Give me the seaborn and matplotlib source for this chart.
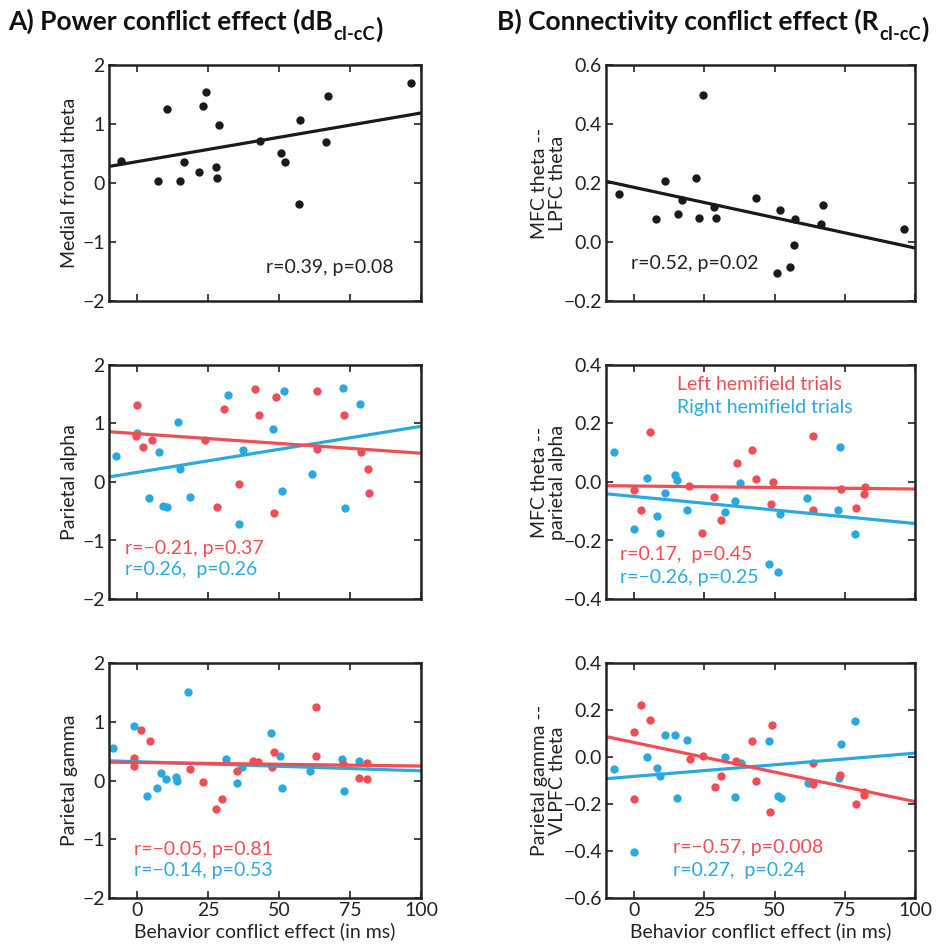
import numpy as np
import matplotlib
matplotlib.use("Agg")
import matplotlib.pyplot as plt
import matplotlib.font_manager as fm
import seaborn as sns

RED = "#ee4e54"
BLUE = "#2aa9e0"

# behaviour conflict effect (ms) and neural effects
a_top_x = [-5.7, 7.2, 10.5, 15.1, 16.5, 21.8, 23.0, 24.1, 27.7, 28.2, 28.8, 43.2, 50.6, 52.1, 56.9, 57.3, 66.6, 67.3, 96.3]
a_top_y = [0.37, 0.04, 1.25, 0.03, 0.36, 0.18, 1.31, 1.54, 0.27, 0.08, 0.99, 0.71, 0.51, 0.36, -0.35, 1.06, 0.69, 1.47, 1.69]

b_top_x = [-5.2, 7.7, 10.9, 15.6, 16.9, 22.2, 23.2, 24.4, 28.3, 29.0, 43.5, 50.7, 52.1, 55.6, 57.0, 57.4, 66.7, 67.4, 96.2]
b_top_y = [0.162, 0.077, 0.206, 0.095, 0.143, 0.217, 0.081, 0.497, 0.117, 0.081, 0.150, -0.105, 0.107, -0.085, -0.011, 0.078, 0.061, 0.127, 0.043]

a_mid_left_x = [-0.2, -0.6, 2.1, 5.2, 23.7, 28.2, 30.7, 35.9, 41.4, 43.0, 48.0, 49.0, 63.3, 63.4, 73.0, 78.7, 81.2, 81.5]
a_mid_left_y = [1.31, 0.78, 0.60, 0.71, 0.71, -0.43, 1.25, -0.04, 1.59, 1.15, -0.53, 1.46, 1.55, 0.56, 1.15, 0.51, 0.22, -0.18]
a_mid_right_x = [-7.6, -0.2, 4.1, 7.8, 8.9, 10.6, 14.3, 14.9, 18.5, 31.9, 35.8, 37.4, 47.8, 50.9, 51.6, 61.5, 72.6, 73.2, 78.5]
a_mid_right_y = [0.44, 0.84, -0.27, 0.51, -0.41, -0.42, 1.03, 0.23, -0.25, 1.49, -0.72, 0.55, 0.90, -0.15, 1.56, 0.13, 1.61, -0.45, 1.34]

b_mid_left_x = [0.0, 2.5, 5.6, 19.6, 28.5, 30.9, 24.2, 36.5, 42.1, 43.4, 48.7, 49.3, 63.8, 63.8, 73.5, 79.1, 82.1, 81.8]
b_mid_left_y = [-0.026, -0.097, 0.171, -0.015, -0.052, -0.131, -0.174, 0.065, 0.108, 0.009, -0.074, 0.001, 0.158, -0.096, -0.025, -0.089, -0.017, -0.042]
b_mid_right_x = [-7.3, -0.1, 4.5, 8.1, 9.3, 10.9, 14.6, 15.3, 18.8, 32.2, 35.9, 37.7, 48.1, 51.2, 51.8, 61.7, 72.7, 73.4, 78.5]
b_mid_right_y = [0.104, -0.159, 0.015, -0.117, -0.176, -0.038, 0.025, 0.007, -0.095, -0.103, -0.065, -0.002, -0.281, -0.309, -0.108, -0.054, -0.096, 0.118, -0.177]

a_bot_left_x = [-1.3, -1.2, -1.2, 1.2, 4.4, 18.6, 23.3, 27.6, 29.9, 35.2, 40.9, 42.6, 47.4, 48.0, 62.9, 62.9, 72.5, 78.2, 80.9, 81.0]
a_bot_left_y = [0.38, 0.33, 0.24, 0.86, 0.67, 0.19, -0.03, -0.49, -0.32, 0.16, 0.34, 0.31, 0.23, 0.49, 1.25, 0.42, 0.28, 0.05, 0.02, 0.29]
a_bot_right_x = [-8.5, -1.2, 3.3, 7.0, 8.2, 10.0, 13.5, 14.1, 17.7, 31.2, 35.0, 36.8, 47.2, 50.4, 51.1, 61.0, 72.0, 72.7, 78.1]
a_bot_right_y = [0.56, 0.93, -0.27, -0.12, 0.12, 0.03, 0.06, -0.01, 1.51, 0.37, -0.05, 0.23, 0.81, 0.42, -0.13, 0.17, 0.36, -0.18, 0.34]

b_bot_left_x = [-0.2, -0.1, 2.6, 5.7, 19.8, 24.4, 28.9, 31.0, 36.3, 42.0, 43.3, 48.4, 49.1, 63.7, 63.7, 73.3, 79.0, 81.7, 81.7]
b_bot_left_y = [0.105, -0.178, 0.223, 0.158, -0.008, 0.004, -0.129, -0.079, -0.016, 0.068, -0.100, -0.236, 0.136, -0.024, -0.113, -0.076, -0.200, -0.160, -0.150]
b_bot_right_x = [-7.3, 0.0, 4.5, 8.0, 9.4, 11.1, 14.6, 15.3, 18.8, 32.3, 35.9, 38.0, 48.1, 51.2, 52.2, 62.0, 72.8, 73.5, 78.8]
b_bot_right_y = [-0.049, -0.404, 0.0, -0.048, -0.082, 0.093, 0.092, -0.174, 0.072, -0.001, -0.171, -0.025, 0.068, -0.164, -0.175, -0.109, -0.089, 0.055, 0.154]

sns.set_style("ticks")
names = {f.name for f in fm.fontManager.ttflist}
base_font = "Lato" if "Lato" in names else "DejaVu Sans"
plt.rcParams["font.family"] = [base_font, "DejaVu Sans"]
plt.rcParams["axes.linewidth"] = 1.8
plt.rcParams["axes.unicode_minus"] = True

FS = 14
INK = "#222222"

fig = plt.figure(figsize=(9.43, 9.47), dpi=100)
W, H = 943, 947


def make_ax(left, top, right, bottom):
    return fig.add_axes([left / W, 1 - bottom / H, (right - left) / W, (bottom - top) / H])


rows = [(65, 301), (365, 599), (663, 898)]
cols = [(109, 421), (606, 915)]
axs = [[make_ax(c[0], r[0], c[1], r[1]) for c in cols] for r in rows]


def style(ax, ylim, yticks, fmt, show_x, ylabel, lab_x):
    ax.set_xlim(-10, 100)
    ax.set_ylim(*ylim)
    ax.set_xticks([0, 25, 50, 75, 100])
    ax.set_yticks(yticks)
    ax.set_yticklabels([fmt.format(v).replace("-", "\u2212") for v in yticks])
    ax.tick_params(direction="in", length=5, width=1.2, top=True, right=True,
                   labelsize=FS, colors=INK, labelcolor=INK, pad=3)
    if show_x:
        ax.set_xlabel("Behavior conflict effect (in ms)", fontsize=FS, color=INK, labelpad=2)
    else:
        ax.set_xticklabels([])
    ax.set_ylabel(ylabel, fontsize=FS, color=INK, linespacing=1.05)
    ax.yaxis.set_label_coords(lab_x, 0.5)
    for s in ax.spines.values():
        s.set_color(INK)


def reg(ax, x, y, color, lw=2.3):
    ax.set_xlim(-10, 100)
    sns.regplot(x=np.array(x), y=np.array(y), ax=ax, ci=None, truncate=False, color=color,
                scatter_kws=dict(s=36, linewidths=0, alpha=1), line_kws=dict(lw=lw))


# top row
ax = axs[0][0]
reg(ax, a_top_x, a_top_y, "#1a1a1a")
style(ax, (-2, 2), [-2, -1, 0, 1, 2], "{:g}", False, "Medial frontal theta", -0.10)
ax.text(45.5, -1.44, "r=0.39, p=0.08", fontsize=FS, color=INK, va="center")

ax = axs[0][1]
reg(ax, b_top_x, b_top_y, "#1a1a1a")
style(ax, (-0.2, 0.6), [-0.2, 0.0, 0.2, 0.4, 0.6], "{:.1f}", False, "MFC theta --\nLPFC theta", -0.13)
ax.text(-1.2, -0.074, "r=0.52, p=0.02", fontsize=FS, color=INK, va="center")

# middle row
ax = axs[1][0]
reg(ax, a_mid_right_x, a_mid_right_y, BLUE)
reg(ax, a_mid_left_x, a_mid_left_y, RED)
style(ax, (-2, 2), [-2, -1, 0, 1, 2], "{:g}", False, "Parietal alpha", -0.10)
ax.text(-4.4, -1.13, "r=\u22120.21, p=0.37", fontsize=FS, color=RED, va="center")
ax.text(-4.4, -1.50, "r=0.26,  p=0.26", fontsize=FS, color=BLUE, va="center")

ax = axs[1][1]
reg(ax, b_mid_right_x, b_mid_right_y, BLUE)
reg(ax, b_mid_left_x, b_mid_left_y, RED)
style(ax, (-0.4, 0.4), [-0.4, -0.2, 0.0, 0.2, 0.4], "{:.1f}", False, "MFC theta --\nparietal alpha", -0.13)
ax.text(15.3, 0.335, "Left hemifield trials", fontsize=FS, color=RED, va="center")
ax.text(15.3, 0.254, "Right hemifield trials", fontsize=FS, color=BLUE, va="center")
ax.text(-4.9, -0.249, "r=0.17,  p=0.45", fontsize=FS, color=RED, va="center")
ax.text(-4.9, -0.325, "r=\u22120.26, p=0.25", fontsize=FS, color=BLUE, va="center")

# bottom row
ax = axs[2][0]
reg(ax, a_bot_right_x, a_bot_right_y, BLUE)
reg(ax, a_bot_left_x, a_bot_left_y, RED)
style(ax, (-2, 2), [-2, -1, 0, 1, 2], "{:g}", True, "Parietal gamma", -0.10)
ax.text(-1.1, -1.18, "r=\u22120.05, p=0.81", fontsize=FS, color=RED, va="center")
ax.text(-1.1, -1.53, "r=\u22120.14, p=0.53", fontsize=FS, color=BLUE, va="center")

ax = axs[2][1]
reg(ax, b_bot_right_x, b_bot_right_y, BLUE)
reg(ax, b_bot_left_x, b_bot_left_y, RED)
style(ax, (-0.6, 0.4), [-0.6, -0.4, -0.2, 0.0, 0.2, 0.4], "{:.1f}", True, "Parietal gamma --\nVLPFC theta", -0.13)
ax.text(13.9, -0.387, "r=\u22120.57, p=0.008", fontsize=FS, color=RED, va="center")
ax.text(13.9, -0.484, "r=0.27,  p=0.24", fontsize=FS, color=BLUE, va="center")

# panel titles with subscript
tkw = dict(fontsize=19, fontweight="bold", color="#111111")
for x0, main in [(8, "A) Power conflict effect (dB"), (497, "B) Connectivity conflict effect (R")]:
    t = fig.text(x0 / W, 1 - 30 / H, main, va="baseline", ha="left", **tkw)
    s = plt.annotate("cI-cC", xy=(1, 0), xycoords=t, xytext=(0.5, -4), textcoords="offset points",
                     va="baseline", ha="left", **{**tkw, "fontsize": 13})
    plt.annotate(")", xy=(1, 0), xycoords=s, xytext=(0.5, 4), textcoords="offset points",
                 va="baseline", ha="left", **tkw)

fig.savefig("out.png", dpi=100)
